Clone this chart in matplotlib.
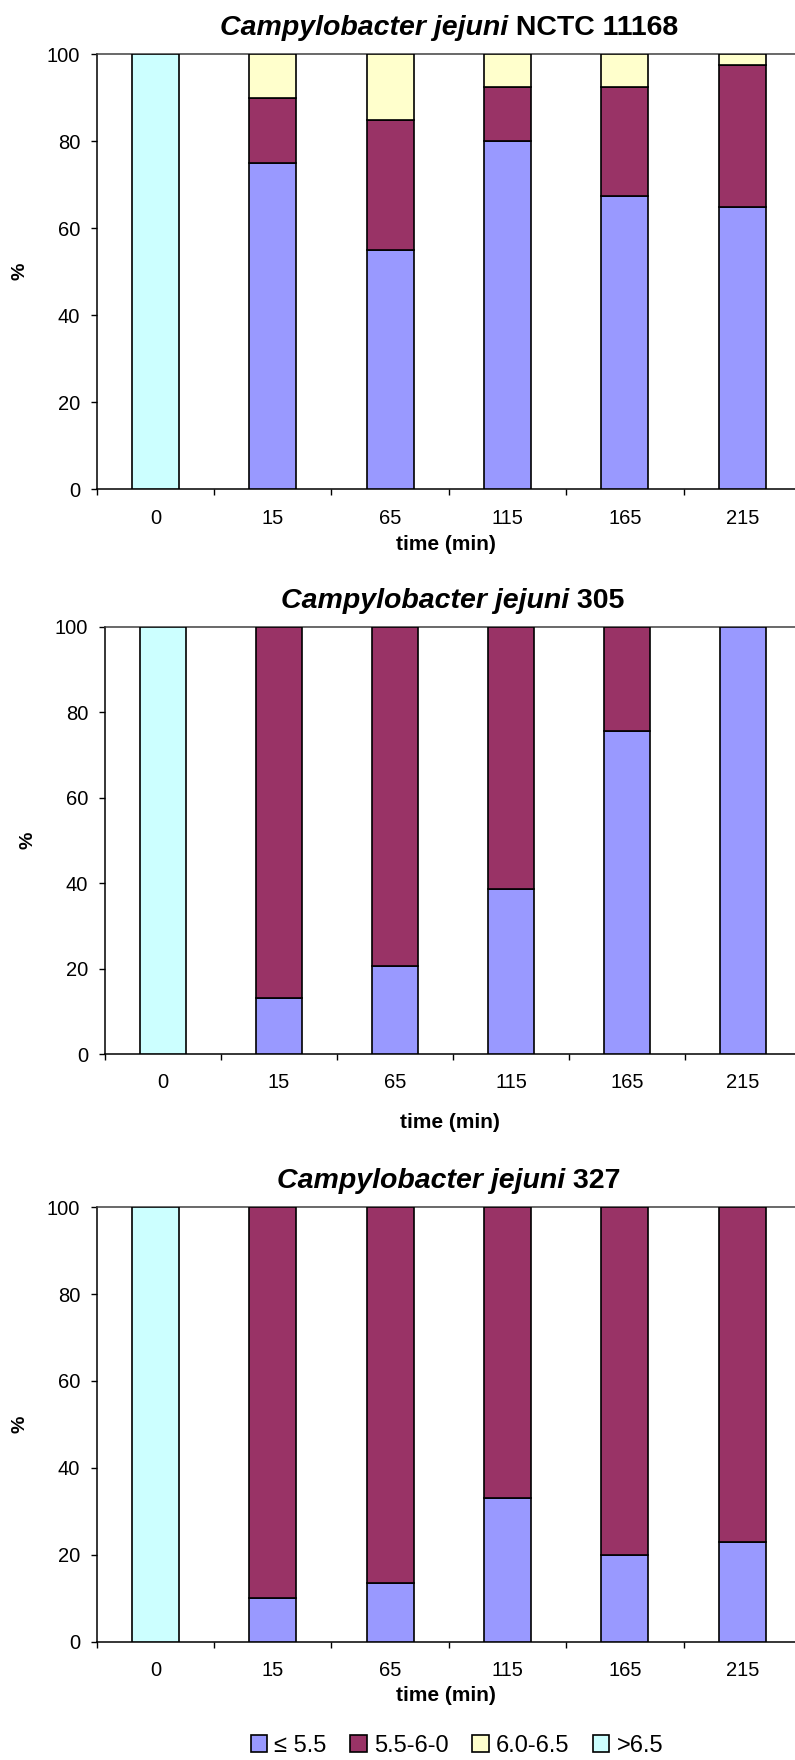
import matplotlib
matplotlib.use("Agg")
import matplotlib.pyplot as plt
from matplotlib.patches import Patch

plt.rcParams['font.family'] = ['Liberation Sans', 'DejaVu Sans']

times = ['0', '15', '65', '115', '165', '215']
legend_labels = ['\u2264 5.5', '5.5-6-0', '6.0-6.5', '>6.5']
colors = ['#9999FF', '#993366', '#FFFFCC', '#CCFFFF']

# panel 1: Campylobacter jejuni NCTC 11168
p1_le55 = [0, 75, 55, 80, 67.5, 65]
p1_55_60 = [0, 15, 30, 12.5, 25, 32.5]
p1_60_65 = [0, 10, 15, 7.5, 7.5, 2.5]
p1_gt65 = [100, 0, 0, 0, 0, 0]

# panel 2: Campylobacter jejuni 305
p2_le55 = [0, 13, 20.5, 38.5, 75.5, 100]
p2_55_60 = [0, 87, 79.5, 61.5, 24.5, 0]
p2_60_65 = [0, 0, 0, 0, 0, 0]
p2_gt65 = [100, 0, 0, 0, 0, 0]

# panel 3: Campylobacter jejuni 327
p3_le55 = [0, 10, 13.5, 33, 20, 23]
p3_55_60 = [0, 90, 86.5, 67, 80, 77]
p3_60_65 = [0, 0, 0, 0, 0, 0]
p3_gt65 = [100, 0, 0, 0, 0, 0]

strains = ['NCTC 11168', '305', '327']

W, H = 795, 1760
fig = plt.figure(figsize=(W / 100, H / 100), dpi=100, facecolor='white')

# (left, top, right, bottom) in pixels
boxes = [(96.7, 54.3, 801, 489.3), (105, 626.7, 801, 1054), (96.7, 1207.3, 801, 1641.5)]
xlabel_off = [55, 69, 54]

panels = [(p1_le55, p1_55_60, p1_60_65, p1_gt65),
          (p2_le55, p2_55_60, p2_60_65, p2_gt65),
          (p3_le55, p3_55_60, p3_60_65, p3_gt65)]

title_parts = []
for i, (series, strain) in enumerate(zip(panels, strains)):
    l, t, r, b = boxes[i]
    ax = fig.add_axes([l / W, 1 - b / H, (r - l) / W, (b - t) / H])
    x = list(range(len(times)))
    bottom = [0] * len(times)
    for vals, c in zip(series, colors):
        # skip zero-height segments so no stray edge lines appear
        xs = [xi for xi, v in zip(x, vals) if v > 0]
        hs = [v for v in vals if v > 0]
        bs = [bo for bo, v in zip(bottom, vals) if v > 0]
        ax.bar(xs, hs, bottom=bs, width=0.4, color=c, edgecolor='black',
               linewidth=1.2, zorder=3)
        bottom = [bo + v for bo, v in zip(bottom, vals)]

    ax.set_xlim(-0.5, 5.5)
    ax.set_ylim(0, 100)
    ax.set_yticks([0, 20, 40, 60, 80, 100])
    ax.tick_params(axis='y', direction='out', length=4.5, width=1,
                   labelsize=14.5, pad=7.5)
    ax.set_xticks(x)
    ax.set_xticklabels(times)
    ax.set_xticks([v - 0.5 for v in range(7)], minor=True)
    ax.tick_params(axis='x', which='major', length=0, labelsize=14.5, pad=14)
    ax.tick_params(axis='x', which='minor', direction='out', length=4.5, width=1)
    ax.spines['right'].set_visible(False)
    ax.spines['top'].set_color('#404040')
    for s in ['left', 'bottom', 'top']:
        ax.spines[s].set_linewidth(1.1)

    ax.annotate('time (min)', xy=(0.5, 0), xycoords='axes fraction',
                xytext=(-3, -xlabel_off[i]), textcoords='offset pixels',
                ha='center', va='center', fontsize=15, fontweight='bold')
    ax.annotate('%', xy=(0, 0.5), xycoords='axes fraction',
                xytext=(-77, 0), textcoords='offset pixels',
                ha='center', va='center', fontsize=14, fontweight='bold',
                rotation=90)

    t1 = ax.annotate('Campylobacter jejuni', xy=(0.5, 1), xycoords='axes fraction',
                     xytext=(0, 19), textcoords='offset pixels',
                     ha='left', va='baseline', fontsize=20.5, fontweight='bold',
                     fontstyle='italic')
    t2 = ax.annotate(' ' + strain, xy=(1, 0), xycoords=t1,
                     ha='left', va='bottom', fontsize=20.5, fontweight='bold')
    title_parts.append((ax, t1, t2))

# center the two-part titles over each plot
fig.canvas.draw()
rend = fig.canvas.get_renderer()
for ax, t1, t2 in title_parts:
    w = t1.get_window_extent(rend).width + t2.get_window_extent(rend).width
    axw = ax.get_window_extent(rend).width
    t1.xy = (0.5 - 0.5 * w / axw, 1)

handles = [Patch(facecolor=c, edgecolor='black', linewidth=1.2) for c in colors]
fig.legend(handles, legend_labels, loc='center', bbox_to_anchor=(457 / W, 1 - 1746 / H),
           ncol=4, frameon=False, fontsize=17, handlelength=0.7, handleheight=0.7,
           handletextpad=0.3, columnspacing=1.0)

fig.savefig('out.png', dpi=100, facecolor='white')
